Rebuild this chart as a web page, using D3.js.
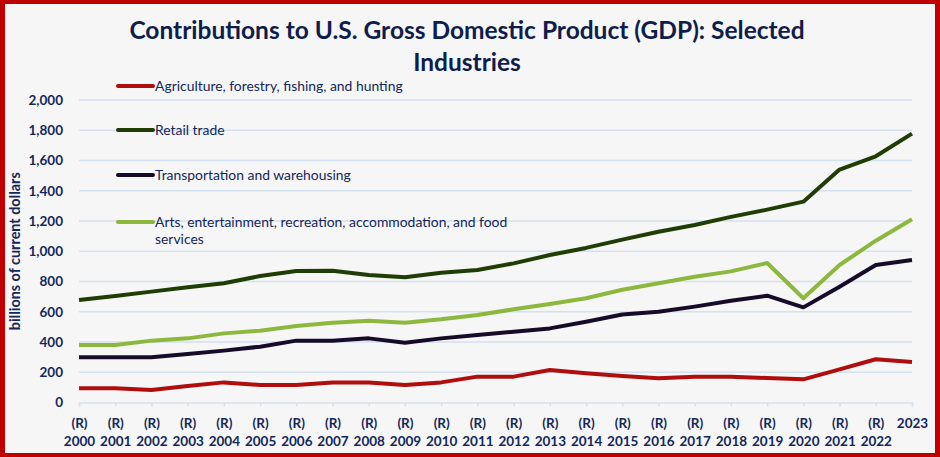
<!DOCTYPE html>
<html>
<head>
<meta charset="utf-8">
<script src="https://cdn.jsdelivr.net/npm/d3@7"></script>
<style>
  html, body { margin: 0; padding: 0; background: #c00000; }
  svg { display: block; }
</style>
</head>
<body>
<svg id="chart" width="940" height="457"></svg>
<script>
const years = ["2000","2001","2002","2003","2004","2005","2006","2007","2008","2009","2010","2011","2012","2013","2014","2015","2016","2017","2018","2019","2020","2021","2022","2023"];
const yearPrefix = ["(R)","(R)","(R)","(R)","(R)","(R)","(R)","(R)","(R)","(R)","(R)","(R)","(R)","(R)","(R)","(R)","(R)","(R)","(R)","(R)","(R)","(R)","(R)",""];
const agriculture = [94,94,83,109,133,116,116,133,133,116,133,171,171,215,193,175,160,171,171,162,153,219,286,268];
const retail = [678,704,733,762,788,836,869,871,843,828,858,876,920,975,1022,1077,1129,1174,1227,1275,1328,1540,1628,1778];
const transportation = [299,299,299,321,343,369,409,409,424,395,424,446,468,490,534,582,600,634,673,706,629,766,909,942];
const arts = [380,380,409,424,457,475,506,528,541,528,550,579,616,651,689,745,788,832,867,922,689,909,1070,1211];
const yTicks = [0,200,400,600,800,1000,1200,1400,1600,1800,2000];
const seriesNames = ["Agriculture, forestry, fishing, and hunting","Retail trade","Transportation and warehousing","Arts, entertainment, recreation, accommodation, and food|services"];
const seriesColors = ["#b00d0d","#1f3d05","#160c2a","#8db83e"];
const titleLines = ["Contributions to U.S. Gross Domestic Product (GDP): Selected","Industries"];
const yTitle = "billions of current dollars";

const series = [agriculture, retail, transportation, arts];
const navy = "#13275a";
const svg = d3.select("#chart");
const W = 940, H = 457;

// background panel inside red border
svg.append("rect").attr("x",5).attr("y",4).attr("width",W-10).attr("height",H-8).attr("fill","#f6f6f6");

const x = d3.scalePoint().domain(years).range([79, 912]);
const y = d3.scaleLinear().domain([0, 2000]).range([402.5, 100]);

// gridlines
svg.append("g").selectAll("line").data(yTicks.filter(d => d > 0)).join("line")
  .attr("x1", 79).attr("x2", 912)
  .attr("y1", d => y(d)).attr("y2", d => y(d))
  .attr("stroke", "#d3e1f0").attr("stroke-width", 1.5);

// y axis labels
const yAxis = d3.axisLeft(y).tickValues(yTicks).tickSize(0).tickPadding(16).tickFormat(d3.format(","));
const gy = svg.append("g").attr("transform", "translate(79,0)").call(yAxis);
gy.select(".domain").remove();
gy.selectAll("text").attr("font-family","Lato, 'Open Sans', sans-serif").attr("font-size",13.5).attr("font-weight","bold").attr("fill",navy);

// x axis
const xAxis = d3.axisBottom(x).tickSize(4).tickFormat(() => "");
const gx = svg.append("g").attr("transform", `translate(0,${y(0)})`).call(xAxis);
gx.select(".domain").attr("stroke","#d3e1f0").attr("stroke-width",1.5);
gx.selectAll(".tick line").attr("stroke","#d3e1f0").attr("stroke-width",1.5);
gx.selectAll(".tick").each(function(d, i) {
  const t = d3.select(this).append("text")
    .attr("font-family","Lato, 'Open Sans', sans-serif").attr("font-size",13.5).attr("font-weight","bold")
    .attr("fill",navy).attr("text-anchor","middle");
  if (yearPrefix[i]) {
    t.append("tspan").attr("x",0).attr("y",25).text(yearPrefix[i]);
    t.append("tspan").attr("x",0).attr("y",43).text(d);
  } else {
    t.append("tspan").attr("x",0).attr("y",25).text(d);
  }
});

// lines
const line = d3.line().x((d, i) => x(years[i])).y(d => y(d));
svg.append("g").selectAll("path").data(series).join("path")
  .attr("d", d => line(d))
  .attr("fill","none")
  .attr("stroke", (d, i) => seriesColors[i])
  .attr("stroke-width", 4)
  .attr("stroke-linejoin","round");

// legend
const legendY = [86, 130, 175, 222];
const lg = svg.append("g");
seriesNames.forEach((name, i) => {
  lg.append("line").attr("x1",118).attr("x2",153).attr("y1",legendY[i]).attr("y2",legendY[i])
    .attr("stroke",seriesColors[i]).attr("stroke-width",4).attr("stroke-linecap","round");
  const parts = name.split("|");
  const t = lg.append("text").attr("font-family","Lato, 'Open Sans', sans-serif").attr("font-size",13.9).attr("fill",navy);
  parts.forEach((p, j) => {
    t.append("tspan").attr("x",155).attr("y",legendY[i] + 4.5 + j*17).text(p);
  });
});

// y title
svg.append("text")
  .attr("transform", `translate(20,${(y(0)+y(2000))/2}) rotate(-90)`)
  .attr("text-anchor","middle")
  .attr("font-family","Lato, 'Open Sans', sans-serif").attr("font-size",14.4).attr("font-weight","bold")
  .attr("fill",navy).text(yTitle);

// title
svg.append("text").attr("text-anchor","middle")
  .attr("font-family","Lato, 'Open Sans', sans-serif").attr("font-size",24.5).attr("font-weight","bold")
  .attr("fill","#0f1d4d")
  .selectAll("tspan").data(titleLines).join("tspan")
  .attr("x",467).attr("y",(d, i) => 39 + i*32).text(d => d);
</script>
</body>
</html>
